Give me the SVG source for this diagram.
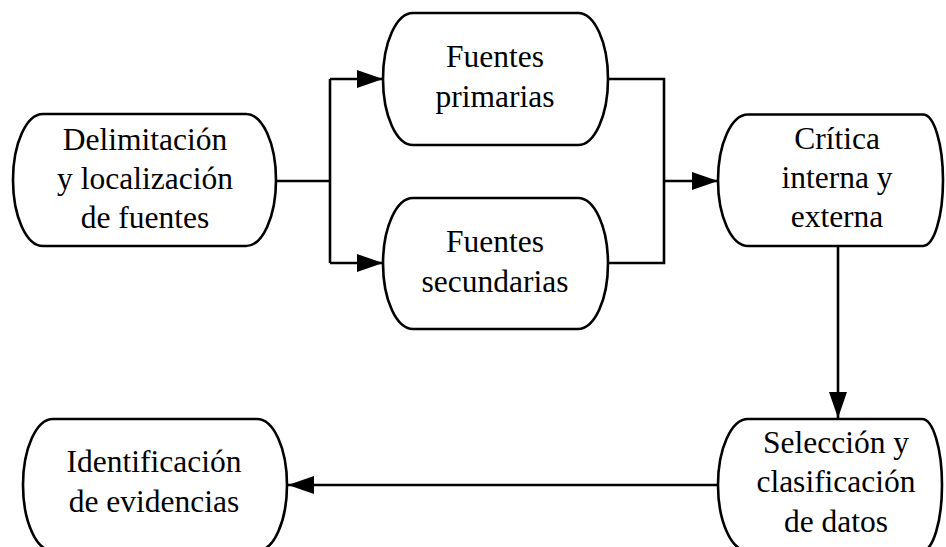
<svg xmlns="http://www.w3.org/2000/svg" width="946" height="547" viewBox="0 0 946 547">
<style>
.n{fill:#fff;stroke:#000;stroke-width:2.6}
text{font-family:'Liberation Serif','Times New Roman',serif;font-size:31.5px;fill:#000;text-anchor:middle}
.c{fill:none;stroke:#000;stroke-width:2.6}
</style>
<defs>
<marker id="ah" markerUnits="userSpaceOnUse" markerWidth="26" markerHeight="18" refX="26" refY="9" orient="auto">
<path d="M0,0 L26,9 L0,18 Z" fill="#000"/>
</marker>
</defs>
<rect width="946" height="547" fill="#fff"/>
<g id="connectors">
<path class="c" d="M276,181 H330"/>
<path class="c" d="M330,79 V263"/>
<path class="c" d="M330,79 H383" marker-end="url(#ah)"/>
<path class="c" d="M330,263 H383" marker-end="url(#ah)"/>
<path class="c" d="M608,79 H664 V263 H608"/>
<path class="c" d="M664,181 H718" marker-end="url(#ah)"/>
<path class="c" d="M838,246 V418" marker-end="url(#ah)"/>
<path class="c" d="M718,485 H288" marker-end="url(#ah)"/>
</g>
<g id="n1">
<path class="n" d="M43,114 H246 A30,66 0 0 1 246,246 H43 A30,66 0 0 1 43,114 Z"/>
<text x="145" y="150">Delimitación</text>
<text x="145" y="189">y localización</text>
<text x="145" y="228">de fuentes</text>
</g>
<g id="n2">
<path class="n" d="M413,13 H578 A30,66 0 0 1 578,145 H413 A30,66 0 0 1 413,13 Z"/>
<text x="495" y="67">Fuentes</text>
<text x="495" y="107">primarias</text>
</g>
<g id="n3">
<path class="n" d="M413,198 H578 A30,65.5 0 0 1 578,329 H413 A30,65.5 0 0 1 413,198 Z"/>
<text x="495" y="252">Fuentes</text>
<text x="495" y="292">secundarias</text>
</g>
<g id="n4">
<path class="n" d="M748,114.5 H923 A20,65.75 0 0 1 923,246 H748 A30,65.75 0 0 1 748,114.5 Z"/>
<text x="837" y="149">Crítica</text>
<text x="837" y="188">interna y</text>
<text x="837" y="227">externa</text>
</g>
<g id="n5">
<path class="n" d="M748,419 H922 A20,66 0 0 1 922,551 H748 A30,66 0 0 1 748,419 Z"/>
<text x="836" y="453">Selección y</text>
<text x="836" y="492">clasificación</text>
<text x="836" y="532">de datos</text>
</g>
<g id="n6">
<path class="n" d="M53,419 H257 A30,66 0 0 1 257,551 H53 A30,66 0 0 1 53,419 Z"/>
<text x="154" y="472">Identificación</text>
<text x="154" y="512">de evidencias</text>
</g>
</svg>
